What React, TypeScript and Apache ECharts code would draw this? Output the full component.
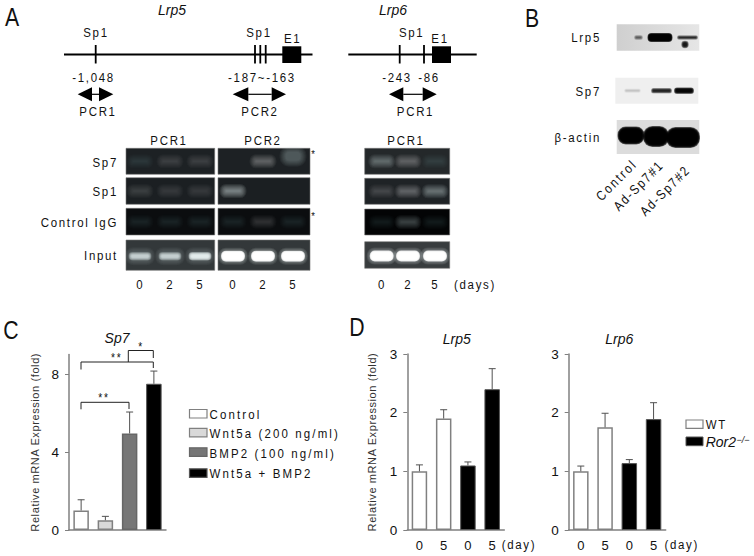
import React, { useEffect, useRef } from "react";
import * as echarts from "echarts";

const FONT = "'Liberation Sans', Arial, sans-serif";

// Panel C
const cCategories = ["Control", "Wnt5a (200 ng/ml)", "BMP2 (100 ng/ml)", "Wnt5a + BMP2"];
const cValues = [1.0, 0.5, 4.95, 7.5];
const cUpper = [1.55, 0.7, 6.05, 8.15];
const cTicks = [0, 4, 8];

// Panel D
const dCategories = ["0", "5", "0", "5"];
const dLrp5Values = [1.0, 1.9, 1.1, 2.4];
const dLrp5Upper = [1.11, 2.05, 1.16, 2.75];
const dLrp6Values = [1.0, 1.75, 1.14, 1.89];
const dLrp6Upper = [1.09, 1.99, 1.2, 2.17];
const dTicks = [0, 1, 2, 3];

// Panel A gel band intensities (row by lane)
const gelRows = ["Sp7", "Sp1", "Control IgG", "Input"];
const gelDays = ["0", "2", "5"];
const gelLrp5Pcr1 = [[0.1, 0.16, 0.15], [0.15, 0.14, 0.14], [0.08, 0.08, 0.1], [0.6, 0.6, 0.8]];
const gelLrp5Pcr2 = [[0, 0.3, 0.25], [0.45, 0, 0], [0.1, 0.16, 0.08], [1, 1, 1]];
const gelLrp6Pcr1 = [[0.32, 0.28, 0.1], [0.18, 0.3, 0.35], [0.1, 0.24, 0.1], [1, 0.95, 1]];

// Panel B blot band densities (row by lane)
const blotRows = ["Lrp5", "Sp7", "β-actin"];
const blotLanes = ["Control", "Ad-Sp7#1", "Ad-Sp7#2"];
const blotLrp5 = [0.5, 1, 0.75];
const blotSp7 = [0.15, 0.8, 0.95];
const blotActin = [1, 1, 1];

const BAR_STYLES = [
  { color: "#ffffff", borderColor: "#808080", borderWidth: 1.5 },
  { color: "#d9d9d9", borderColor: "#808080", borderWidth: 1.5 },
  { color: "#767676", borderColor: "#666666", borderWidth: 1.5 },
  { color: "#000000", borderColor: "#555555", borderWidth: 1 },
];
const D_BAR_STYLES = [BAR_STYLES[0], BAR_STYLES[0], BAR_STYLES[3], BAR_STYLES[3]];

const txt = (text: string, x: number, y: number, o: any = {}) => ({
  type: "text",
  x,
  y,
  rotation: o.rotation || 0,
  scaleX: o.italic ? 1 : 0.85,
  silent: true,
  style: {
    text,
    fontFamily: FONT,
    fontSize: o.size || 13.5,
    fontStyle: o.italic ? "italic" : "normal",
    fill: o.fill || "#111111",
    textAlign: o.align || "center",
    textVerticalAlign: "middle",
  },
});
const seg = (x1: number, y1: number, x2: number, y2: number, w = 1, c = "#000") => ({
  type: "line",
  silent: true,
  shape: { x1, y1, x2, y2 },
  style: { stroke: c, lineWidth: w },
});
const box = (x: number, y: number, w: number, h: number, fill: any, stroke?: string, lw = 1) => ({
  type: "rect",
  silent: true,
  shape: { x, y, width: w, height: h },
  style: { fill, stroke: stroke || "none", lineWidth: lw },
});
const poly = (pts: number[][], fill = "#000") => ({
  type: "polygon",
  silent: true,
  shape: { points: pts },
  style: { fill },
});
// A soft-edged band built from stacked translucent rounded rectangles.
const soft = (cx: number, cy: number, w: number, h: number, rgb: string, a: number, blur: number) => {
  const n = 6;
  const layer = a >= 1 ? 0.55 : 1 - Math.pow(1 - a, 1 / n);
  const out: any[] = [];
  for (let k = n; k >= 0; k--) {
    const grow = (k / n) * blur - blur / 2;
    const ww = Math.max(1, w + 2 * grow);
    const hh = Math.max(1, h + 2 * grow);
    out.push({
      type: "rect",
      silent: true,
      shape: { x: cx - ww / 2, y: cy - hh / 2, width: ww, height: hh, r: Math.min(ww, hh) / 2.2 },
      style: { fill: `rgba(${rgb},${layer})` },
    });
  }
  return out;
};
const gelBand = (cx: number, cy: number, v: number, input: boolean, tall: boolean) => {
  if (v <= 0) return [];
  if (input && v >= 0.9) {
    return [...soft(cx, cy, 25, 12, "190,200,200", 0.55, 5), ...soft(cx, cy, 22, 9, "255,255,255", 1, 2)];
  }
  if (input) {
    return [...soft(cx, cy, 24, 12, "170,185,190", 0.3, 6), ...soft(cx, cy, 20, 5.5, "235,245,245", v + 0.1, 3)];
  }
  return soft(cx, cy, 21, tall ? 15 : 8, "215,225,225", v, 6);
};
const blotBand = (cx: number, cy: number, w: number, h: number, v: number, blur = 2) =>
  soft(cx, cy, w, h, "0,0,0", v, blur);

const doubleArrow = (x1: number, b1: number, b2: number, x2: number, y: number) => [
  seg(b1, y, b2, y, 1.2),
  poly([[x1, y], [b1, y - 7], [b1, y + 7]]),
  poly([[x2, y], [b2, y - 7], [b2, y + 7]]),
];
const bracket = (x1: number, yl: number, yt: number, x2: number, yr: number) => ({
  type: "polyline",
  silent: true,
  shape: { points: [[x1, yl], [x1, yt], [x2, yt], [x2, yr]] },
  style: { stroke: "#222", lineWidth: 1, fill: "none" },
});

function buildGraphics() {
  const g: any[] = [];
  // panel letters
  g.push(txt("A", 12, 17, { size: 25 }), txt("B", 532, 18, { size: 25 }), txt("C", 11, 330, { size: 25 }), txt("D", 357, 327, { size: 25 }));

  // Panel A maps
  g.push(txt("Lrp5", 172, 10, { italic: true, size: 14 }), txt("Lrp6", 393, 10, { italic: true, size: 14 }));
  g.push(seg(64, 54.5, 312.5, 54.5, 2));
  [95.7, 255, 260.3, 265.7].forEach((x) => g.push(seg(x, 45, x, 63.5, 1.8)));
  g.push(box(282.3, 46.3, 19, 16.7, "#000"));
  g.push(txt("Sp1", 96, 33), txt("Sp1", 259, 33), txt("E1", 292.7, 39));
  g.push(txt("-1,048", 93.5, 78), txt("-187~-163", 262, 78));
  g.push(...doubleArrow(77.7, 92, 99, 113.3, 94.3), ...doubleArrow(232.7, 248.3, 271.7, 286, 94.3));
  g.push(txt("PCR1", 98, 112), txt("PCR2", 260, 112));

  g.push(seg(348.3, 54.5, 476.7, 54.5, 2));
  [399.7, 424].forEach((x) => g.push(seg(x, 45, x, 63.5, 1.8)));
  g.push(box(432, 46.3, 19, 16.7, "#000"));
  g.push(txt("Sp1", 411.7, 33), txt("E1", 440, 39));
  g.push(txt("-243", 397, 78), txt("-86", 429, 78));
  g.push(...doubleArrow(389, 403.3, 422.7, 436.7, 94.3));
  g.push(txt("PCR1", 415.5, 112));

  // Panel A gels
  g.push(txt("PCR1", 169, 141), txt("PCR2", 263, 141), txt("PCR1", 406, 141));
  const rowsA = [[148.3, 26], [177.7, 26.6], [208.3, 26.7], [240, 30.3]];
  const rowsB = [[148.3, 26], [178.3, 26], [209, 26], [241.7, 26.6]];
  const rowBg = ["#1d2124", "#1b1f22", "#0b0d0f", "#33383a"];
  const rowBg3 = ["#24282a", "#1f2326", "#030405", "#383c3e"];
  const rowY = [162.7, 191.7, 223, 255.7];
  gelRows.forEach((r, i) => g.push(txt(r, 118, rowY[i], { align: "right" })));
  const cols = [
    { x: 126, w: 88.7, lanes: [140, 170, 200], data: gelLrp5Pcr1, rows: rowsA, bg: rowBg },
    { x: 218, w: 92, lanes: [233, 263, 293], data: gelLrp5Pcr2, rows: rowsA, bg: rowBg },
    { x: 364.7, w: 85, lanes: [381.7, 408, 435], data: gelLrp6Pcr1, rows: rowsB, bg: rowBg3 },
  ];
  cols.forEach((c) => {
    c.rows.forEach(([y, h], ri) => {
      g.push(box(c.x, y, c.w, h, c.bg[ri], "#777777", 0.6));
      c.data[ri].forEach((v, li) => {
        const cy = ri === 3 ? y + h / 2 + 1 : y + h / 2;
        const up = c.x === 218 && ri === 0 && li === 2;
        g.push(...gelBand(c.lanes[li], up ? cy - 5 : cy, v, ri === 3, up));
      });
    });
    c.lanes.forEach((x, i) => g.push(txt(gelDays[i], x - 0.5, 285)));
  });
  g.push(txt("(days)", 475, 285));
  g.push(txt("*", 313, 154, { size: 11 }), txt("*", 313, 216, { size: 11 }));

  // Panel B
  const blotBg = new (echarts.graphic as any).LinearGradient(0, 0, 1, 0, [
    { offset: 0, color: "#cfcfcf" },
    { offset: 1, color: "#e6e6e6" },
  ]);
  g.push(box(616.7, 24.3, 82.6, 26.4, blotBg), box(615.3, 77.7, 83, 26, "#efefef"), box(616.7, 120, 82.6, 34, "#dcdcdc"));
  g.push(
    ...blotBand(638.5, 37.5, 7, 3, blotLrp5[0]),
    ...blotBand(660, 37.5, 23, 7, blotLrp5[1]),
    ...blotBand(687.5, 37.5, 19, 2.5, blotLrp5[2]),
    ...blotBand(685, 44.5, 5.5, 5.5, 0.85),
    ...blotBand(632.5, 90.7, 15, 2.5, blotSp7[0]),
    ...blotBand(661.5, 90.7, 19, 3.5, blotSp7[1]),
    ...blotBand(684, 90.7, 18, 4.5, blotSp7[2]),
    ...blotBand(631, 135.5, 24, 15, blotActin[0], 3),
    ...blotBand(656, 136.5, 23, 18, blotActin[1], 3),
    ...blotBand(683, 137.5, 31, 18, blotActin[2], 3)
  );
  g.push(
    txt(blotRows[0], 601, 38, { align: "right" }),
    txt(blotRows[1], 601, 92, { align: "right" }),
    txt(blotRows[2], 601, 138, { align: "right" })
  );
  const lanesEnd = [[635, 162], [661.5, 163], [688, 168]];
  blotLanes.forEach((t, i) =>
    g.push(txt(t, lanesEnd[i][0], lanesEnd[i][1], { align: "right", rotation: Math.PI / 4 }))
  );

  // Panel C extras
  g.push(txt("Sp7", 117, 338, { italic: true, size: 14 }));
  g.push(bracket(81, 369.5, 362, 153.3, 368), bracket(128.3, 362, 350.5, 153.3, 358), bracket(81, 409.3, 402.3, 129, 409));
  g.push(txt("**", 116.7, 358, { size: 12 }), txt("*", 140.3, 346.5, { size: 12 }), txt("**", 104, 398, { size: 12 }));
  const legY = [[409.5, 414.3], [428.3, 434], [447.8, 454], [468.8, 473.7]];
  cCategories.forEach((c, i) => {
    const s = BAR_STYLES[i];
    g.push(box(189.5, legY[i][0], 17.5, 8.5, s.color, s.borderColor, 1.2));
    g.push(txt(c, 209.5, legY[i][1], { align: "left" }));
  });

  // Panel D extras
  g.push(txt("Lrp5", 456.7, 338.5, { italic: true, size: 14 }), txt("Lrp6", 619.3, 338.5, { italic: true, size: 14 }));
  g.push(txt("(day)", 519, 545), txt("(day)", 681.7, 545));
  g.push(box(686, 420, 17, 8.3, "#fff", "#808080", 1.2), box(686, 437, 17, 8.7, "#000", "#555", 1));
  g.push(txt("WT", 705.7, 424.5, { align: "left" }));
  g.push(txt("Ror2", 705.7, 442, { align: "left", italic: true, size: 14 }));
  g.push(txt("−/−", 736.5, 439.5, { align: "left", italic: true, size: 9 }));
  return g;
}

const errorSeries = (xi: number, values: number[], upper: number[]) => ({
  type: "custom",
  xAxisIndex: xi,
  yAxisIndex: xi,
  silent: true,
  encode: { x: 0, y: [1, 2] },
  data: upper.map((u, i) => [i, values[i], u]),
  z: 5,
  renderItem: (_: any, api: any) => {
    const a = api.coord([api.value(0), api.value(1)]);
    const b = api.coord([api.value(0), api.value(2)]);
    const st = { stroke: "#505050", lineWidth: 1 };
    return {
      type: "group",
      children: [
        { type: "line", shape: { x1: a[0], y1: a[1], x2: b[0], y2: b[1] }, style: st },
        { type: "line", shape: { x1: a[0] - 3.5, y1: b[1], x2: a[0] + 3.5, y2: b[1] }, style: st },
      ],
    };
  },
});
const barSeries = (xi: number, values: number[], styles: any[]) => ({
  type: "bar",
  xAxisIndex: xi,
  yAxisIndex: xi,
  barWidth: 15.5,
  silent: true,
  data: values.map((v, i) => ({ value: v, itemStyle: styles[i] })),
});
const xAx = (gridIndex: number, data: string[], show: boolean) => ({
  type: "category",
  gridIndex,
  data,
  axisLine: { lineStyle: { color: "#808080", width: 1.5 } },
  axisTick: { show: false },
  axisLabel: { show, fontFamily: FONT, fontSize: 13, color: "#111111", margin: 9 },
});
const yAx = (gridIndex: number, max: number, ticks: number[], name: string, gap = 30) => ({
  type: "value",
  gridIndex,
  min: 0,
  max,
  interval: ticks[1] - ticks[0],
  name,
  nameLocation: "middle",
  nameGap: gap,
  nameRotate: 90,
  nameTextStyle: { fontFamily: FONT, fontSize: 11, color: "#333" },
  axisLine: { show: true, lineStyle: { color: "#808080", width: 1.5 } },
  axisTick: { show: true, length: 4, lineStyle: { color: "#808080", width: 1 }, customValues: ticks },
  axisLabel: { fontFamily: FONT, fontSize: 13.5, color: "#111111", margin: 10, customValues: ticks },
  splitLine: { show: false },
});

export default function App() {
  const ref = useRef<HTMLDivElement>(null);
  useEffect(() => {
    const chart = echarts.init(ref.current!, undefined, { renderer: "svg" });
    chart.setOption({
      animation: false,
      backgroundColor: "#ffffff",
      textStyle: { fontFamily: FONT },
      grid: [
        { left: 69, top: 354.5, width: 97, height: 175.5 },
        { left: 407.3, top: 354, width: 97, height: 176 },
        { left: 568.7, top: 354, width: 97, height: 176 },
      ],
      xAxis: [xAx(0, cCategories, false), xAx(1, dCategories, true), xAx(2, dCategories, true)],
      yAxis: [
        yAx(0, 9, cTicks, "Relative mRNA Expression (fold)", 29),
        yAx(1, 3, dTicks, "Relative mRNA Expression (fold)", 30),
        yAx(2, 3, dTicks, ""),
      ],
      series: [
        barSeries(0, cValues, BAR_STYLES),
        errorSeries(0, cValues, cUpper),
        barSeries(1, dLrp5Values, D_BAR_STYLES),
        errorSeries(1, dLrp5Values, dLrp5Upper),
        barSeries(2, dLrp6Values, D_BAR_STYLES),
        errorSeries(2, dLrp6Values, dLrp6Upper),
      ],
      graphic: { elements: buildGraphics() },
    });
    // Per-text tracking, which the reference's wide-set type needs.
    const legend = new Set(cCategories);
    ref.current!.querySelectorAll("text").forEach((t) => {
      const c = t.textContent || "";
      const st = (t.getAttribute("style") || "") + (t.getAttribute("font-style") || "");
      let s: string | null = null;
      if (/italic/.test(st) || c.length === 1) s = "0";
      else if (c.startsWith("Relative")) s = "0.6px";
      else if (legend.has(c)) s = "2.5px";
      if (s !== null) (t as any).style.letterSpacing = s;
    });
    return () => chart.dispose();
  }, []);
  return (
    <div
      ref={ref}
      style={{ position: "absolute", left: 0, top: 0, width: 754, height: 556, letterSpacing: "2px", background: "#fff" }}
    />
  );
}
